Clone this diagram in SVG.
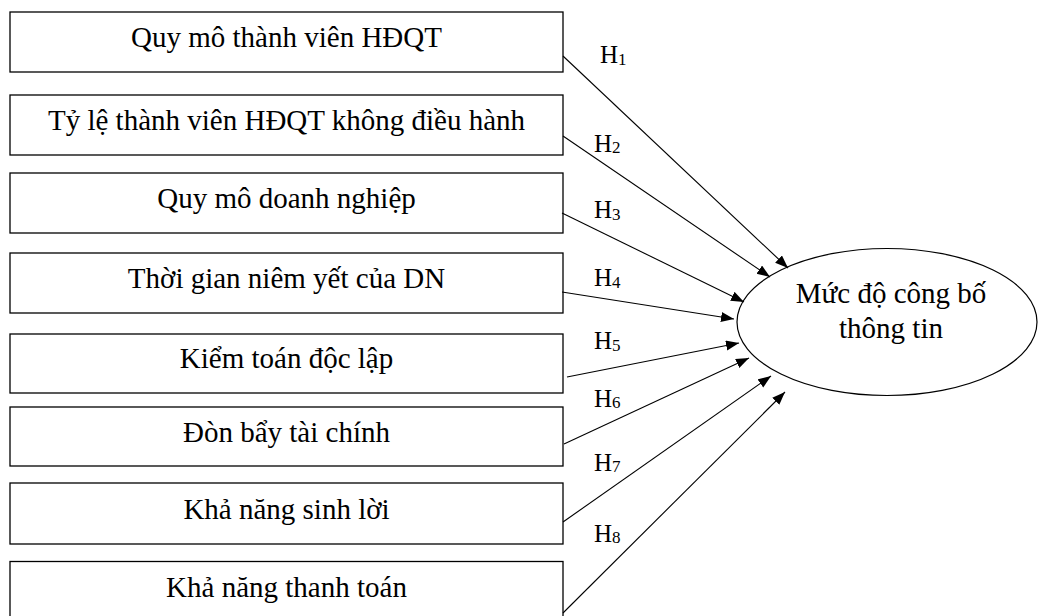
<svg xmlns="http://www.w3.org/2000/svg" width="1038" height="616" viewBox="0 0 1038 616">
  <style>
    .box { fill: #fff; stroke: #000; stroke-width: 1.3; }
    .ell { fill: #fff; stroke: #000; stroke-width: 1.2; }
    .lbl { font-family: "Liberation Serif", "Times New Roman", serif; font-size: 29px; fill: #000; text-anchor: middle; }
    .h { font-family: "Liberation Serif", "Times New Roman", serif; font-size: 25px; fill: #000; }
    .sub { font-size: 17px; }
    .edge { stroke: #000; stroke-width: 1.1; fill: none; marker-end: url(#arrow); }
  </style>
  <defs>
    <marker id="arrow" markerUnits="userSpaceOnUse" markerWidth="14" markerHeight="11" refX="13" refY="5" orient="auto">
      <path d="M0,0 L13,5 L0,10 z" fill="#000"/>
    </marker>
  </defs>
  <rect width="1038" height="616" fill="#fff"/>

  <g id="n1"><rect class="box" x="10" y="12" width="553" height="60"/><text class="lbl" x="286.5" y="47">Quy mô thành viên HĐQT</text></g>
  <g id="n2"><rect class="box" x="10" y="95" width="553" height="60"/><text class="lbl" x="286.5" y="130">Tỷ lệ thành viên HĐQT không điều hành</text></g>
  <g id="n3"><rect class="box" x="10" y="173" width="553" height="60"/><text class="lbl" x="286.5" y="208">Quy mô doanh nghiệp</text></g>
  <g id="n4"><rect class="box" x="10" y="253" width="553" height="60"/><text class="lbl" x="286.5" y="288">Thời gian niêm yết của DN</text></g>
  <g id="n5"><rect class="box" x="10" y="334" width="553" height="59"/><text class="lbl" x="286.5" y="368">Kiểm toán độc lập</text></g>
  <g id="n6"><rect class="box" x="10" y="407" width="553" height="59"/><text class="lbl" x="286.5" y="442">Đòn bẩy tài chính</text></g>
  <g id="n7"><rect class="box" x="10" y="483" width="553" height="61"/><text class="lbl" x="286.5" y="519">Khả năng sinh lời</text></g>
  <g id="n8"><rect class="box" x="10" y="561.5" width="553" height="70"/><text class="lbl" x="286.5" y="597">Khả năng thanh toán</text></g>

  <g id="target">
    <ellipse class="ell" cx="887" cy="322" rx="150" ry="73.5"/>
    <text class="lbl" x="891" y="303">Mức độ công bố</text>
    <text class="lbl" x="891" y="338">thông tin</text>
  </g>

  <g id="connectors">
    <line class="edge" x1="563" y1="56" x2="788" y2="268"/>
    <line class="edge" x1="563" y1="136" x2="770" y2="277"/>
    <line class="edge" x1="562" y1="213" x2="744" y2="302"/>
    <line class="edge" x1="562" y1="292" x2="734" y2="319"/>
    <line class="edge" x1="567" y1="377" x2="739" y2="343"/>
    <line class="edge" x1="564" y1="444" x2="749" y2="358"/>
    <line class="edge" x1="563" y1="522" x2="771" y2="376"/>
    <line class="edge" x1="563" y1="613" x2="785" y2="392"/>
  </g>

  <g id="labels">
    <text class="h" x="600" y="63">H<tspan class="sub" dy="1.5">1</tspan></text>
    <text class="h" x="594" y="151.5">H<tspan class="sub" dy="1.5">2</tspan></text>
    <text class="h" x="594" y="218">H<tspan class="sub" dy="1.5">3</tspan></text>
    <text class="h" x="594" y="286">H<tspan class="sub" dy="1.5">4</tspan></text>
    <text class="h" x="594" y="349">H<tspan class="sub" dy="1.5">5</tspan></text>
    <text class="h" x="594" y="406.5">H<tspan class="sub" dy="1.5">6</tspan></text>
    <text class="h" x="594" y="470.5">H<tspan class="sub" dy="1.5">7</tspan></text>
    <text class="h" x="594" y="541.5">H<tspan class="sub" dy="1.5">8</tspan></text>
  </g>
</svg>
